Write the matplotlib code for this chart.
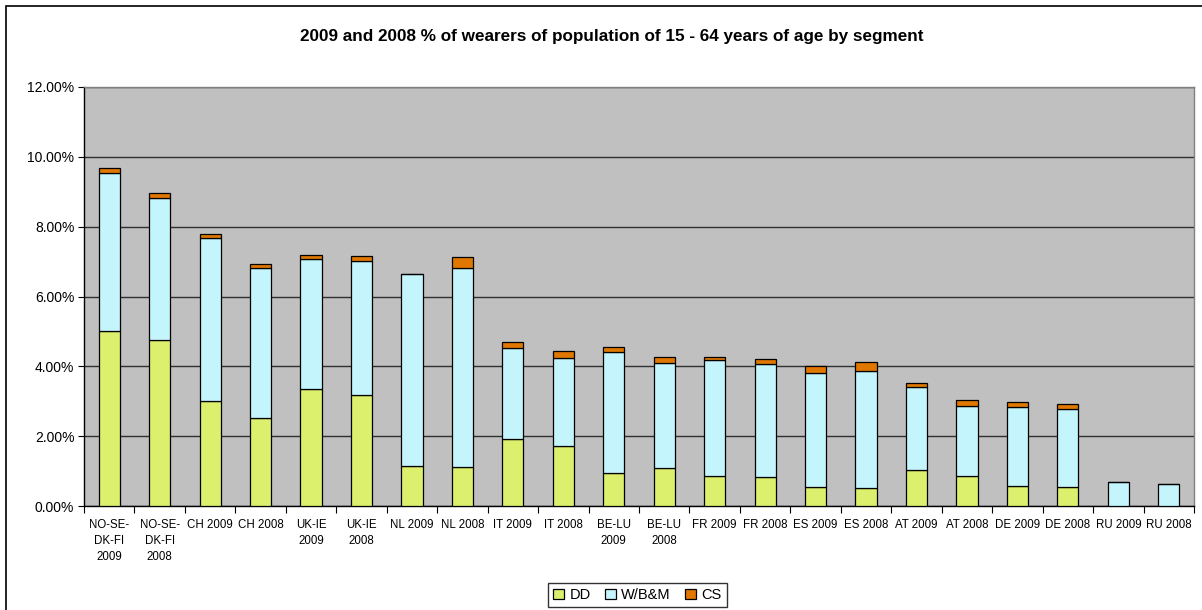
import matplotlib
matplotlib.use("Agg")
import matplotlib.pyplot as plt
from matplotlib.patches import Rectangle
from matplotlib.ticker import FuncFormatter, FixedLocator
import numpy as np

plt.rcParams['font.family'] = ['Liberation Sans', 'DejaVu Sans']

categories = ["NO-SE-\nDK-FI\n2009", "NO-SE-\nDK-FI\n2008", "CH 2009", "CH 2008",
              "UK-IE\n2009", "UK-IE\n2008", "NL 2009", "NL 2008", "IT 2009", "IT 2008",
              "BE-LU\n2009", "BE-LU\n2008", "FR 2009", "FR 2008", "ES 2009", "ES 2008",
              "AT 2009", "AT 2008", "DE 2009", "DE 2008", "RU 2009", "RU 2008"]

# values in percent of population
dd = [5.02, 4.74, 3.02, 2.52, 3.35, 3.19, 1.14, 1.13, 1.92, 1.71,
      0.95, 1.08, 0.86, 0.82, 0.53, 0.51, 1.02, 0.85, 0.58, 0.53, 0.00, 0.00]
wbm = [4.51, 4.08, 4.66, 4.30, 3.72, 3.82, 5.51, 5.69, 2.60, 2.53,
       3.47, 3.02, 3.31, 3.25, 3.29, 3.37, 2.40, 2.01, 2.26, 2.25, 0.69, 0.63]
cs = [0.14, 0.13, 0.10, 0.11, 0.11, 0.14, 0.00, 0.32, 0.17, 0.19,
      0.13, 0.17, 0.10, 0.13, 0.18, 0.25, 0.09, 0.18, 0.14, 0.14, 0.00, 0.00]

series_names = ["DD", "W/B&M", "CS"]
colors = ["#DCF06E", "#C4F5FD", "#E07800"]

W, H = 1202, 610
fig = plt.figure(figsize=(W / 100, H / 100), dpi=100)
ax = fig.add_axes([84 / W, (H - 506) / H, 1110 / W, 419 / H])
ax.set_facecolor("#C0C0C0")

x = np.arange(len(categories))
dd_a = np.array(dd) / 100
wbm_a = np.array(wbm) / 100
cs_a = np.array(cs) / 100
bw = 0.42
ax.bar(x, dd_a, bw, color=colors[0], edgecolor="black", linewidth=0.9, label=series_names[0], zorder=3)
ax.bar(x, wbm_a, bw, bottom=dd_a, color=colors[1], edgecolor="black", linewidth=0.9, label=series_names[1], zorder=3)
ax.bar(x, cs_a, bw, bottom=dd_a + wbm_a, color=colors[2], edgecolor="black", linewidth=0.9, label=series_names[2], zorder=3)

ax.set_xlim(-0.5, len(categories) - 0.5)
ax.set_ylim(0, 0.12)
ax.set_yticks(np.arange(0, 0.1201, 0.02))
ax.yaxis.set_major_formatter(FuncFormatter(lambda v, p: f"{v*100:.2f}%"))
ax.tick_params(axis='y', labelsize=10, length=4, width=0.8, direction='out', pad=3, colors='black')
ax.grid(axis='y', color='#303030', linewidth=1.0, zorder=1)

# category boundaries as major ticks, labels on minor ticks
ax.xaxis.set_major_locator(FixedLocator(np.arange(-0.5, len(categories), 1.0)))
ax.xaxis.set_major_formatter(FuncFormatter(lambda v, p: ""))
ax.xaxis.set_minor_locator(FixedLocator(x))
ax.set_xticklabels(categories, minor=True, fontsize=8.3, linespacing=1.5, va='top')
ax.tick_params(axis='x', which='major', length=5, width=0.8, direction='out')
ax.tick_params(axis='x', which='minor', length=0, pad=9)

for s in ['left', 'bottom']:
    ax.spines[s].set_color('black')
    ax.spines[s].set_linewidth(1.0)
for s in ['top', 'right']:
    ax.spines[s].set_color('#808080')
    ax.spines[s].set_linewidth(1.0)

fig.text(612 / W, 1 - 36 / H, "2009 and 2008 % of wearers of population of 15 - 64 years of age by segment",
         ha='center', va='center', fontsize=12.3, fontweight='bold')

leg = fig.legend(loc='center', bbox_to_anchor=(637.5 / W, 1 - 595 / H), ncol=3, fontsize=10.5,
                 frameon=True, fancybox=False, edgecolor='black', handlelength=0.75, handleheight=0.75,
                 handletextpad=0.35, columnspacing=1.0, borderpad=0.35, borderaxespad=0)
leg.get_frame().set_linewidth(1.0)

fig.patches.append(Rectangle((6 / W, -0.1), 1.2, (H - 6) / H + 0.1, transform=fig.transFigure,
                             fill=False, edgecolor='black', linewidth=1.2))

fig.savefig("out.png", dpi=100)
